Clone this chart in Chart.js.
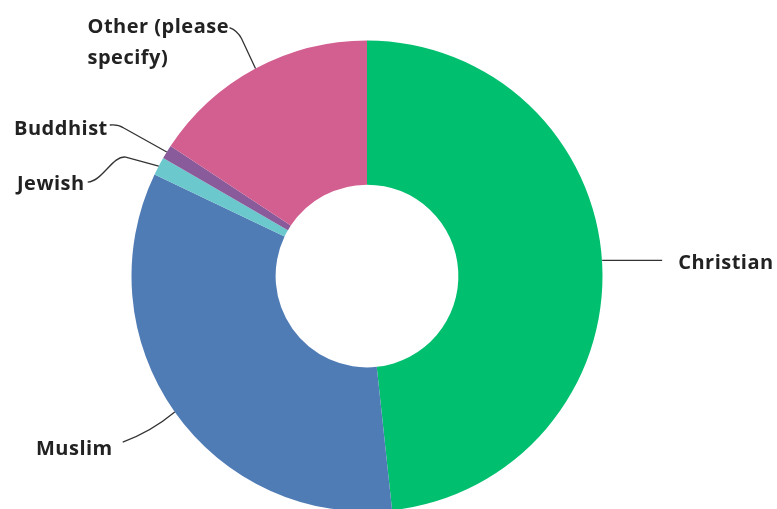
<!DOCTYPE html>
<html>
<head>
<meta charset="utf-8">
<script src="https://cdn.jsdelivr.net/npm/chart.js@4/dist/chart.umd.min.js"></script>
<style>
  html, body { margin: 0; padding: 0; background: #fff; overflow: hidden; }
  #wrap { position: absolute; left: 0; top: 0; width: 777px; height: 520px; }
</style>
</head>
<body>
<div id="wrap"><canvas id="religionChart"></canvas></div>
<script>
// Data (share of responses, %)
const categories = ['Christian', 'Muslim', 'Jewish', 'Buddhist', 'Other (please specify)'];
const shares = [48.3, 33.8, 1.25, 0.95, 15.7];
const sliceColors = ['#00bf6f', '#507cb6', '#6bc8cd', '#8a5b9b', '#d25f90'];

// label text lines and leader paths, relative to the slice's outer mid point
const labelStyle = [
    { lines: ['Christian'], align: 'left', tx: 76, ty: [5.5],
      path: [['M', 0, -3], ['L', 60, -3]] },
    { lines: ['Muslim'], align: 'right', tx: -62, ty: [43],
      path: [['M', 0, 0], ['Q', -24, 20, -52, 30]] },
    { lines: ['Jewish'], align: 'right', tx: -74, ty: [24],
      path: [['M', 0, 0], ['L', -33, -9], ['C', -46, -11, -56, 15, -71, 16]] },
    { lines: ['Buddhist'], align: 'right', tx: -59, ty: [-17],
      path: [['M', 0, 0], ['L', -43, -24], ['Q', -49, -28, -57, -27]] },
    { lines: ['Other (please', 'specify)'], align: 'left', tx: -168, ty: [-36, -5],
      path: [['M', 0, 0], ['L', -14, -30], ['Q', -18, -38, -26, -41]] }
];

const leaderLabels = {
    id: 'leaderLabels',
    afterDatasetsDraw(chart) {
        const ctx = chart.ctx;
        const arcs = chart.getDatasetMeta(0).data;
        ctx.save();
        ctx.strokeStyle = '#333';
        ctx.lineWidth = 1.3;
        ctx.fillStyle = '#222';
        ctx.font = 'bold 20px "Open Sans"';
        ctx.letterSpacing = '0.5px';
        ctx.textBaseline = 'alphabetic';
        arcs.forEach((arc, i) => {
            const p = arc.getProps(['x', 'y', 'startAngle', 'endAngle', 'outerRadius'], true);
            const mid = (p.startAngle + p.endAngle) / 2;
            const ax = p.x + Math.cos(mid) * p.outerRadius;
            const ay = p.y + Math.sin(mid) * p.outerRadius;
            const s = labelStyle[i];

            ctx.beginPath();
            s.path.forEach(cmd => {
                const v = cmd.slice(1);
                if (cmd[0] === 'M') ctx.moveTo(ax + v[0], ay + v[1]);
                else if (cmd[0] === 'L') ctx.lineTo(ax + v[0], ay + v[1]);
                else if (cmd[0] === 'Q') ctx.quadraticCurveTo(ax + v[0], ay + v[1], ax + v[2], ay + v[3]);
                else if (cmd[0] === 'C') ctx.bezierCurveTo(ax + v[0], ay + v[1], ax + v[2], ay + v[3], ax + v[4], ay + v[5]);
            });
            ctx.stroke();

            ctx.textAlign = s.align;
            s.lines.forEach((line, j) => {
                ctx.fillText(line, ax + s.tx, ay + s.ty[j]);
            });
        });
        ctx.restore();
    }
};

new Chart(document.getElementById('religionChart'), {
    type: 'doughnut',
    data: {
        labels: categories,
        datasets: [{
            data: shares,
            backgroundColor: sliceColors,
            borderWidth: 0
        }]
    },
    options: {
        responsive: true,
        maintainAspectRatio: false,
        animation: false,
        cutout: '38.8%',
        layout: { padding: { left: 131.5, right: 174.5, top: 40.5, bottom: 8.5 } },
        plugins: {
            legend: { display: false },
            tooltip: { enabled: false }
        }
    },
    plugins: [leaderLabels]
});
</script>
</body>
</html>
